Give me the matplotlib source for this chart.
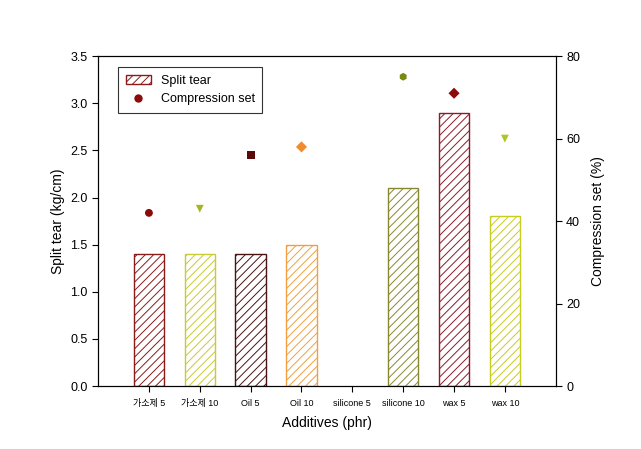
import matplotlib
matplotlib.use("Agg")
import matplotlib.pyplot as plt
import numpy as np
from matplotlib.patches import Patch
from matplotlib.lines import Line2D

plt.rcParams['font.family'] = ['Liberation Sans', 'Noto Sans CJK KR', 'DejaVu Sans']
plt.rcParams['hatch.linewidth'] = 0.7

categories = ["가소제 5", "가소제 10", "Oil 5", "Oil 10", "silicone 5", "silicone 10", "wax 5", "wax 10"]
split_tear = [1.4, 1.4, 1.4, 1.5, 0.0, 2.1, 2.9, 1.8]
compression_set = [42, 43, 56, 58, np.nan, 75, 71, 60]
bar_colors = ["#8b1a1a", "#c8cc30", "#4a1414", "#f0a040", "#888830", "#888830", "#8b1a2a", "#c8cc20"]
marker_colors = ["#8b0a0a", "#a8b428", "#5a0a0a", "#f08c30", "#808000", "#7a8a10", "#8b0a0a", "#b0c428"]
markers = ["o", "v", "s", "D", "o", "h", "D", "v"]

fig = plt.figure(figsize=(6.41, 4.49), dpi=100)
ax = fig.add_axes([0.153, 0.140, 0.714, 0.735])
x = np.arange(len(categories))

for i, (h, c) in enumerate(zip(split_tear, bar_colors)):
    if h > 0:
        ax.bar(x[i], h, width=0.6, facecolor="white", edgecolor=c, hatch="////", linewidth=1.0)

ax.set_xlim(-1, 8)
ax.set_ylim(0, 3.5)
ax.set_yticks(np.arange(0, 3.51, 0.5))
ax.set_yticklabels([f"{v:.1f}" for v in np.arange(0, 3.51, 0.5)], fontsize=9)
ax.set_xticks(x)
ax.set_xticklabels(categories, fontsize=6.5)
ax.set_xlabel("Additives (phr)", fontsize=10, labelpad=6)
ax.set_ylabel("Split tear (kg/cm)", fontsize=10)
ax.tick_params(axis='both', direction='out', length=4, width=0.8)
ax.tick_params(axis='x', length=4, pad=5)

ax2 = ax.twinx()
ax2.set_ylim(0, 80)
ax2.set_yticks([0, 20, 40, 60, 80])
ax2.set_yticklabels(["0", "20", "40", "60", "80"], fontsize=9)
ax2.set_ylabel("Compression set (%)", fontsize=10, labelpad=8)
ax2.tick_params(axis='y', direction='out', length=4, width=0.8)
for i, (v, c, m) in enumerate(zip(compression_set, marker_colors, markers)):
    if not np.isnan(v):
        ax2.scatter(x[i], v, marker=m, color=c, s=32, zorder=3, edgecolors='none')

handles = [Patch(facecolor="white", edgecolor="#8b1a1a", hatch="////", label="Split tear"),
           Line2D([], [], marker="o", color="#8b0a0a", linestyle="none", markersize=5, label="Compression set")]
leg = ax.legend(handles=handles, loc="upper left", bbox_to_anchor=(0.03, 0.985), fontsize=9,
                frameon=True, fancybox=False, edgecolor="black", handlelength=2.0, borderpad=0.6)
leg.get_frame().set_linewidth(0.8)

fig.savefig("out.png", dpi=100)
